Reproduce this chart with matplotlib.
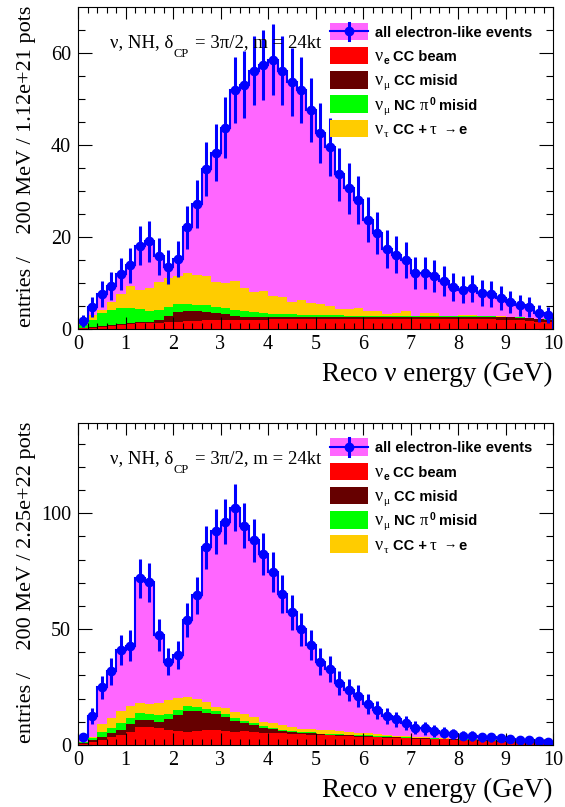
import numpy as np
import matplotlib
matplotlib.use("Agg")
import matplotlib.pyplot as plt
from matplotlib.lines import Line2D
from matplotlib.patches import Rectangle
from matplotlib.ticker import MultipleLocator

plt.rcParams['font.family'] = ['Liberation Serif', 'DejaVu Serif']

W, H = 565, 807
DPI = 100

PINK = '#ff66ff'
RED = '#ff0000'
DARK = '#660000'
GREEN = '#00ff00'
YELLOW = '#ffcc00'
BLUE = '#0000ff'

energy_edges = np.arange(0, 10.01, 0.2)

# 1.12e+21 pots
all_top = [1.8, 4.8, 7.6, 9.3, 11.9, 13.8, 18.1, 19.0, 15.8, 13.5,
           15.3, 22.1, 27.1, 34.7, 38.3, 43.7, 51.9, 53.0, 56.1, 57.3,
           58.5, 56.1, 53.6, 51.9, 47.5, 42.6, 39.6, 33.6, 30.5, 28.0,
           23.7, 20.9, 17.3, 16.1, 15.0, 12.2, 12.1, 11.5, 10.4, 9.2,
           8.5, 8.8, 7.9, 7.6, 6.7, 5.9, 5.2, 4.8, 3.4, 3.0]
nue_top = [0.2, 0.3, 0.5, 0.7, 0.9, 1.1, 1.2, 1.3, 1.4, 1.5,
           1.6, 1.7, 1.8, 1.9, 1.9, 2.0, 2.0, 1.9, 2.0, 2.0,
           2.1, 2.1, 2.1, 2.2, 2.2, 2.2, 2.2, 2.2, 2.2, 2.2,
           2.1, 2.1, 2.1, 2.1, 2.1, 2.1, 2.1, 2.1, 2.1, 2.1,
           2.1, 2.1, 2.1, 2.1, 2.0, 2.0, 1.9, 1.8, 1.6, 1.45]
numu_cc_top = [0.05, 0.05, 0.1, 0.1, 0.1, 0.3, 0.4, 0.3, 0.6, 1.3,
               2.0, 2.1, 2.0, 1.7, 1.5, 1.2, 0.9, 0.8, 0.5, 0.6,
               0.5, 0.5, 0.5, 0.4, 0.4, 0.4, 0.4, 0.4, 0.4, 0.4,
               0.5, 0.5, 0.5, 0.5, 0.6, 0.6, 0.6, 0.6, 0.6, 0.6,
               0.6, 0.6, 0.6, 0.6, 0.6, 0.5, 0.5, 0.5, 0.5, 0.55]
nc_top = [0.65, 1.65, 2.8, 3.3, 3.5, 3.1, 2.7, 2.4, 2.1, 1.9,
          1.8, 1.6, 1.5, 1.6, 1.4, 1.3, 1.2, 1.3, 1.1, 0.9,
          0.6, 0.7, 0.6, 0.4, 0.4, 0.4, 0.4, 0.4, 0.3, 0.3,
          0.3, 0.3, 0.2, 0.2, 0.1, 0.1, 0.1, 0.1, 0.1, 0.1,
          0.1, 0.1, 0.1, 0.1, 0.1, 0.1, 0.1, 0.1, 0.1, 0.1]
nutau_top = [0.3, 1.0, 0.7, 1.8, 3.2, 4.9, 4.2, 4.8, 6.2, 6.3,
             6.0, 6.8, 6.4, 6.3, 5.3, 5.4, 6.4, 4.8, 4.4, 4.7,
             4.0, 3.7, 2.7, 3.3, 2.6, 2.4, 2.0, 1.3, 1.4, 1.6,
             1.1, 0.9, 0.4, 0.7, 1.0, 0.1, 0.6, 0.7, 0.1, 0.1,
             0.2, 0.2, 0.1, 0.1, 0.1, 0.05, 0.05, 0.0, 0.0, 0.0]

# 2.25e+22 pots
all_bot = [3.3, 12.5, 24.9, 31.7, 41.0, 42.9, 71.9, 70.1, 47.5, 36.0,
           38.8, 54.0, 64.5, 85.2, 92.1, 96.3, 102.4, 94.5, 88.2, 82.3,
           74.8, 65.2, 57.3, 49.9, 43.2, 36.0, 32.7, 26.9, 23.7, 21.2,
           17.7, 15.1, 12.5, 11.1, 9.4, 7.5, 7.2, 6.0, 5.3, 4.7,
           4.0, 3.9, 3.3, 3.3, 2.9, 2.6, 2.2, 2.2, 1.7, 1.4]
nue_bot = [0.4, 1.4, 2.2, 3.3, 4.3, 5.5, 7.6, 7.9, 7.2, 6.5,
           6.2, 5.8, 6.0, 6.5, 6.3, 6.0, 5.5, 6.0, 5.8, 5.3,
           5.0, 5.0, 4.9, 4.6, 4.5, 4.3, 4.2, 4.0, 3.8, 3.6,
           3.5, 3.3, 3.2, 3.0, 2.9, 2.8, 2.7, 2.5, 2.4, 2.2,
           2.1, 2.0, 1.8, 1.6, 1.4, 1.3, 1.1, 1.0, 0.8, 0.7]
numu_cc_bot = [0.3, 0.8, 1.4, 1.7, 2.2, 3.4, 3.2, 2.9, 2.9, 4.6,
               6.7, 9.0, 8.7, 7.5, 6.9, 6.2, 4.9, 3.5, 2.7, 2.2,
               1.8, 1.0, 0.7, 0.7, 0.6, 0.3, 0.3, 0.3, 0.3, 0.3,
               0.3, 0.3, 0.3, 0.3, 0.3, 0.2, 0.2, 0.2, 0.2, 0.2,
               0.2, 0.2, 0.2, 0.2, 0.2, 0.1, 0.1, 0.1, 0.1, 0.1]
nc_bot = [0.7, 1.0, 2.2, 2.2, 2.9, 2.6, 2.9, 2.4, 2.8, 2.1,
          2.2, 2.0, 1.6, 1.4, 1.5, 1.2, 1.4, 1.0, 0.9, 0.5,
          0.5, 0.5, 0.4, 0.4, 0.4, 0.3, 0.3, 0.3, 0.3, 0.3,
          0.3, 0.3, 0.3, 0.3, 0.3, 0.2, 0.2, 0.2, 0.2, 0.2,
          0.2, 0.2, 0.2, 0.2, 0.2, 0.1, 0.1, 0.1, 0.1, 0.1]
nutau_bot = [0.0, 0.4, 3.1, 4.3, 5.3, 5.5, 4.3, 4.4, 5.1, 6.2,
             5.0, 4.1, 3.6, 3.3, 1.8, 2.4, 2.6, 3.0, 2.6, 2.0,
             2.2, 2.0, 1.8, 1.1, 1.5, 1.4, 1.7, 1.4, 1.4, 1.1,
             0.9, 0.7, 0.5, 0.4, 0.3, 0.4, 0.3, 0.2, 0.1, 0.1,
             0.1, 0.1, 0.1, 0.1, 0.05, 0.05, 0.05, 0.05, 0.05, 0.05]

fig = plt.figure(figsize=(W / DPI, H / DPI), dpi=DPI)


def px(x, y):
    return x / W, 1 - y / H


def txt(x, y, s, size=10.5, bold=True, serif=False, **kw):
    fam = ['Liberation Serif', 'DejaVu Serif'] if serif else ['Liberation Sans', 'DejaVu Sans']
    fig.text(*px(x, y), s, fontsize=size, fontweight='bold' if bold else 'normal',
             family=fam, va='baseline', ha='left', **kw)


def draw_hists(ax, all_ev, comps, ymax, major, minor):
    centers = 0.5 * (energy_edges[1:] + energy_edges[:-1])
    stack = np.cumsum(np.array(comps), axis=0)
    ax.stairs(all_ev, energy_edges, fill=True, color=PINK, lw=0)
    for level, c in zip(stack[::-1], [YELLOW, GREEN, DARK, RED]):
        ax.stairs(level, energy_edges, fill=True, color=c, lw=0)
    ax.stairs(all_ev, energy_edges, color=BLUE, lw=1.5)
    ax.errorbar(centers, all_ev, yerr=np.sqrt(all_ev), fmt='o', color=BLUE,
                ms=6, elinewidth=2.2, capsize=0)

    ax.set_xlim(0, 10)
    ax.set_ylim(0, ymax)
    ax.xaxis.set_major_locator(MultipleLocator(1))
    ax.xaxis.set_minor_locator(MultipleLocator(0.2))
    ax.yaxis.set_major_locator(MultipleLocator(major))
    ax.yaxis.set_minor_locator(MultipleLocator(minor))
    ax.tick_params(which='both', direction='in', top=True, right=True, width=0.8,
                   labelsize=14.5)
    ax.tick_params(axis='x', which='major', length=8.5, pad=4)
    ax.tick_params(axis='x', which='minor', length=4.3)
    ax.tick_params(axis='y', which='major', length=10, pad=5)
    ax.tick_params(axis='y', which='minor', length=5)
    for sp in ax.spines.values():
        sp.set_linewidth(0.8)


def draw_text(top, bottom, pots):
    # title line
    base = top + 40
    txt(110, base, "ν, NH, δ", 13.5, False, True)
    txt(173, base + 10, "CP", 9, False, True)
    txt(195, base, "= 3π/2, m = 24kt", 13.5, False, True)

    # legend
    rows = [top + 24.3 * (i + 1) for i in range(5)]
    for yc, c in zip(rows, [PINK, RED, DARK, GREEN, YELLOW]):
        fig.add_artist(Rectangle(px(330, yc + 8.75), 38 / W, 17.5 / H,
                                 transform=fig.transFigure, color=c, lw=0))
    y0 = 1 - rows[0] / H
    fig.add_artist(Line2D([330 / W, 368 / W], [y0, y0], color=BLUE, lw=1.5))
    fig.add_artist(Line2D([349 / W] * 2, [1 - (rows[0] - 8.75) / H, 1 - (rows[0] + 8.75) / H],
                          color=BLUE, lw=2.2))
    fig.add_artist(Line2D([349 / W], [y0], marker='o', ms=6, color=BLUE))

    b = [r + 5.5 for r in rows]
    txt(375, b[0], "all electron-like events")
    txt(375, b[1], "ν", 13, False, True)
    txt(383.5, b[1] + 3, "e", 7.5)
    txt(393, b[1], "CC beam")
    txt(375, b[2], "ν", 13, False, True)
    txt(383.5, b[2] + 3, "μ", 8, False, True)
    txt(394, b[2], "CC misid")
    txt(375, b[3], "ν", 13, False, True)
    txt(383.5, b[3] + 3, "μ", 8, False, True)
    txt(394, b[3], "NC")
    txt(420, b[3], "π", 12, False, True)
    txt(429.5, b[3] - 5, "0", 7.5)
    txt(438.5, b[3], "misid")
    txt(375, b[4], "ν", 13, False, True)
    txt(383.5, b[4] + 3, "τ", 8, False, True)
    txt(392.7, b[4], "CC +")
    txt(430, b[4], "τ", 12, False, True)
    txt(443, b[4] - 0.5, "→", 9.5, False, True)
    txt(458.5, b[4], "e")

    # axis titles
    fig.text(*px(553, bottom + 52), "Reco ν energy (GeV)", fontsize=19.5,
             ha='right', va='baseline')
    fig.text(*px(27, top - 1), "entries /    200 MeV / %s pots" % pots, fontsize=16,
             rotation=90, ha='center', va='top')


panels = [
    (7, 329, all_top, [nue_top, numu_cc_top, nc_top, nutau_top], 69.9, 20, 5, "1.12e+21"),
    (422.7, 745, all_bot, [nue_bot, numu_cc_bot, nc_bot, nutau_bot], 139, 50, 10, "2.25e+22"),
]

for top, bottom, all_ev, comps, ymax, major, minor, pots in panels:
    ax = fig.add_axes([78 / W, 1 - bottom / H, (553 - 78) / W, (bottom - top) / H])
    draw_hists(ax, all_ev, comps, ymax, major, minor)
    draw_text(top, bottom, pots)

fig.savefig("out.png", dpi=DPI)
